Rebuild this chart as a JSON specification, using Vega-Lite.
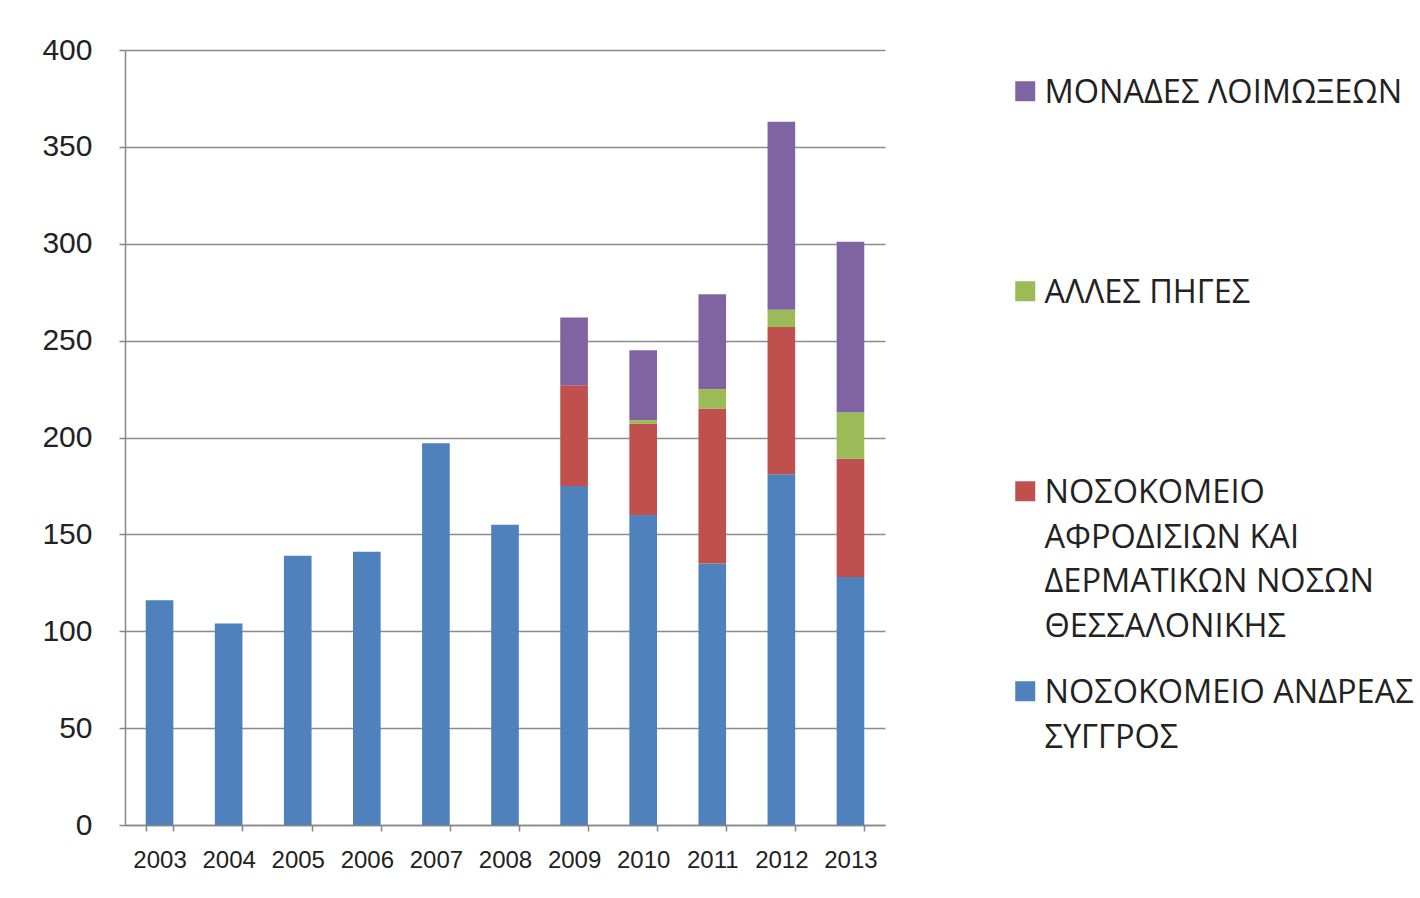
{
  "$schema": "https://vega.github.io/schema/vega-lite/v6.json",
  "width": 760,
  "height": 775,
  "autosize": {"type": "none"},
  "padding": {"left": 125, "top": 50, "right": 535, "bottom": 73},
  "background": "white",
  "config": {"view": {"stroke": null}},
  "data": {"values": [
    {"year": "2003", "source": " ΝΟΣΟΚΟΜΕΙΟ ΑΝΔΡΕΑΣ ΣΥΓΓΡΟΣ", "ord": 1, "value": 116},
    {"year": "2004", "source": " ΝΟΣΟΚΟΜΕΙΟ ΑΝΔΡΕΑΣ ΣΥΓΓΡΟΣ", "ord": 1, "value": 104},
    {"year": "2005", "source": " ΝΟΣΟΚΟΜΕΙΟ ΑΝΔΡΕΑΣ ΣΥΓΓΡΟΣ", "ord": 1, "value": 139},
    {"year": "2006", "source": " ΝΟΣΟΚΟΜΕΙΟ ΑΝΔΡΕΑΣ ΣΥΓΓΡΟΣ", "ord": 1, "value": 141},
    {"year": "2007", "source": " ΝΟΣΟΚΟΜΕΙΟ ΑΝΔΡΕΑΣ ΣΥΓΓΡΟΣ", "ord": 1, "value": 197},
    {"year": "2008", "source": " ΝΟΣΟΚΟΜΕΙΟ ΑΝΔΡΕΑΣ ΣΥΓΓΡΟΣ", "ord": 1, "value": 155},
    {"year": "2009", "source": " ΝΟΣΟΚΟΜΕΙΟ ΑΝΔΡΕΑΣ ΣΥΓΓΡΟΣ", "ord": 1, "value": 175},
    {"year": "2009", "source": "ΝΟΣΟΚΟΜΕΙΟ ΑΦΡΟΔΙΣΙΩΝ ΚΑΙ ΔΕΡΜΑΤΙΚΩΝ ΝΟΣΩΝ ΘΕΣΣΑΛΟΝΙΚΗΣ", "ord": 2, "value": 52},
    {"year": "2009", "source": "ΑΛΛΕΣ ΠΗΓΕΣ", "ord": 3, "value": 0},
    {"year": "2009", "source": "ΜΟΝΑΔΕΣ ΛΟΙΜΩΞΕΩΝ", "ord": 4, "value": 35},
    {"year": "2010", "source": " ΝΟΣΟΚΟΜΕΙΟ ΑΝΔΡΕΑΣ ΣΥΓΓΡΟΣ", "ord": 1, "value": 160},
    {"year": "2010", "source": "ΝΟΣΟΚΟΜΕΙΟ ΑΦΡΟΔΙΣΙΩΝ ΚΑΙ ΔΕΡΜΑΤΙΚΩΝ ΝΟΣΩΝ ΘΕΣΣΑΛΟΝΙΚΗΣ", "ord": 2, "value": 47},
    {"year": "2010", "source": "ΑΛΛΕΣ ΠΗΓΕΣ", "ord": 3, "value": 2},
    {"year": "2010", "source": "ΜΟΝΑΔΕΣ ΛΟΙΜΩΞΕΩΝ", "ord": 4, "value": 36},
    {"year": "2011", "source": " ΝΟΣΟΚΟΜΕΙΟ ΑΝΔΡΕΑΣ ΣΥΓΓΡΟΣ", "ord": 1, "value": 135},
    {"year": "2011", "source": "ΝΟΣΟΚΟΜΕΙΟ ΑΦΡΟΔΙΣΙΩΝ ΚΑΙ ΔΕΡΜΑΤΙΚΩΝ ΝΟΣΩΝ ΘΕΣΣΑΛΟΝΙΚΗΣ", "ord": 2, "value": 80},
    {"year": "2011", "source": "ΑΛΛΕΣ ΠΗΓΕΣ", "ord": 3, "value": 10},
    {"year": "2011", "source": "ΜΟΝΑΔΕΣ ΛΟΙΜΩΞΕΩΝ", "ord": 4, "value": 49},
    {"year": "2012", "source": " ΝΟΣΟΚΟΜΕΙΟ ΑΝΔΡΕΑΣ ΣΥΓΓΡΟΣ", "ord": 1, "value": 181},
    {"year": "2012", "source": "ΝΟΣΟΚΟΜΕΙΟ ΑΦΡΟΔΙΣΙΩΝ ΚΑΙ ΔΕΡΜΑΤΙΚΩΝ ΝΟΣΩΝ ΘΕΣΣΑΛΟΝΙΚΗΣ", "ord": 2, "value": 76},
    {"year": "2012", "source": "ΑΛΛΕΣ ΠΗΓΕΣ", "ord": 3, "value": 9},
    {"year": "2012", "source": "ΜΟΝΑΔΕΣ ΛΟΙΜΩΞΕΩΝ", "ord": 4, "value": 97},
    {"year": "2013", "source": " ΝΟΣΟΚΟΜΕΙΟ ΑΝΔΡΕΑΣ ΣΥΓΓΡΟΣ", "ord": 1, "value": 128},
    {"year": "2013", "source": "ΝΟΣΟΚΟΜΕΙΟ ΑΦΡΟΔΙΣΙΩΝ ΚΑΙ ΔΕΡΜΑΤΙΚΩΝ ΝΟΣΩΝ ΘΕΣΣΑΛΟΝΙΚΗΣ", "ord": 2, "value": 61},
    {"year": "2013", "source": "ΑΛΛΕΣ ΠΗΓΕΣ", "ord": 3, "value": 24},
    {"year": "2013", "source": "ΜΟΝΑΔΕΣ ΛΟΙΜΩΞΕΩΝ", "ord": 4, "value": 88}
  ]},
  "mark": {"type": "bar"},
  "encoding": {
    "x": {
      "field": "year", "type": "ordinal",
      "scale": {"paddingInner": 0.6, "paddingOuter": 0.3},
      "axis": {
        "title": null, "labelAngle": 0, "labelFont": "Liberation Sans", "labelFontSize": 24,
        "labelColor": "#222222", "labelPadding": 17, "tickBand": "extent", "tickSize": 6,
        "tickColor": "#868686", "domainColor": "#868686", "domainWidth": 1.5, "tickWidth": 1.5
      }
    },
    "y": {
      "field": "value", "type": "quantitative", "stack": "zero",
      "scale": {"domain": [0, 400], "nice": false},
      "axis": {
        "title": null, "values": [0, 50, 100, 150, 200, 250, 300, 350, 400],
        "labelFont": "Liberation Sans", "labelFontSize": 30, "labelColor": "#222222",
        "labelPadding": 27, "tickSize": 6, "tickColor": "#868686", "tickWidth": 1.5,
        "domainColor": "#868686", "domainWidth": 1.5,
        "grid": true, "gridColor": "#8c8c8c", "gridWidth": 1.5
      }
    },
    "order": {"field": "ord", "type": "quantitative", "sort": "ascending"},
    "color": {
      "field": "source", "type": "nominal",
      "scale": {
        "domain": ["ΜΟΝΑΔΕΣ ΛΟΙΜΩΞΕΩΝ", "ΑΛΛΕΣ ΠΗΓΕΣ", "ΝΟΣΟΚΟΜΕΙΟ ΑΦΡΟΔΙΣΙΩΝ ΚΑΙ ΔΕΡΜΑΤΙΚΩΝ ΝΟΣΩΝ ΘΕΣΣΑΛΟΝΙΚΗΣ", " ΝΟΣΟΚΟΜΕΙΟ ΑΝΔΡΕΑΣ ΣΥΓΓΡΟΣ"],
        "range": ["#8064A2", "#9BBB59", "#C0504D", "#4F81BD"]
      },
      "legend": {
        "title": null, "orient": "none", "legendX": 884, "legendY": 25,
        "symbolType": "square", "symbolSize": 400, "symbolStrokeWidth": 0, "symbolOpacity": 1,
        "labelFont": "Open Sans", "labelFontSize": 32.5, "labelColor": "#222222",
        "labelLimit": 0, "labelOffset": 3, "rowPadding": 31, "gridAlign": "all",
        "labelExpr": "datum.label == 'ΝΟΣΟΚΟΜΕΙΟ ΑΦΡΟΔΙΣΙΩΝ ΚΑΙ ΔΕΡΜΑΤΙΚΩΝ ΝΟΣΩΝ ΘΕΣΣΑΛΟΝΙΚΗΣ' ? ['ΝΟΣΟΚΟΜΕΙΟ', 'ΑΦΡΟΔΙΣΙΩΝ ΚΑΙ', 'ΔΕΡΜΑΤΙΚΩΝ ΝΟΣΩΝ', 'ΘΕΣΣΑΛΟΝΙΚΗΣ'] : datum.label == ' ΝΟΣΟΚΟΜΕΙΟ ΑΝΔΡΕΑΣ ΣΥΓΓΡΟΣ' ? ['\u2002ΝΟΣΟΚΟΜΕΙΟ ΑΝΔΡΕΑΣ', 'ΣΥΓΓΡΟΣ'] : datum.label",
        "labelBaseline": "alphabetic",
        "encode": {"labels": {"update": {"dy": {"value": 12}, "lineHeight": {"value": 44.5}}}}
      }
    }
  }
}
